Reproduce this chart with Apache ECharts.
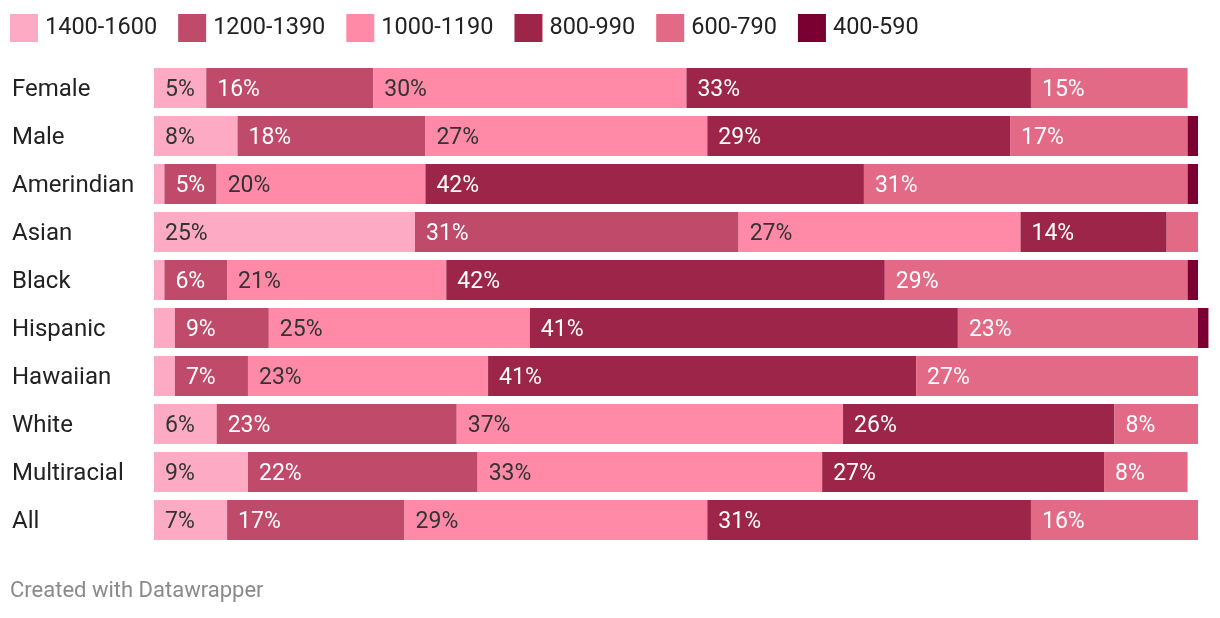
<!DOCTYPE html>
<html>
<head>
<meta charset="utf-8">
<script src="https://cdn.jsdelivr.net/npm/echarts@6/dist/echarts.min.js"></script>
<style>
html,body{margin:0;padding:0;background:#fff;}
#chart{width:1220px;height:618px;}
</style>
</head>
<body>
<div id="chart"></div>
<script>
const categories = ["Female","Male","Amerindian","Asian","Black","Hispanic","Hawaiian","White","Multiracial","All"];
const seriesNames = ["1400-1600","1200-1390","1000-1190","800-990","600-790","400-590"];
const s1400 = [5, 8, 1, 25, 1, 2, 2, 6, 9, 7];
const s1200 = [16, 18, 5, 31, 6, 9, 7, 23, 22, 17];
const s1000 = [30, 27, 20, 27, 21, 25, 23, 37, 33, 29];
const s800  = [33, 29, 42, 14, 42, 41, 41, 26, 27, 31];
const s600  = [15, 17, 31, 3, 29, 23, 27, 8, 8, 16];
const s400  = [0, 1, 1, 0, 1, 1, 0, 0, 0, 0];

const values = [s1400, s1200, s1000, s800, s600, s400];
const colors = ["#fdaac5", "#c04a69", "#ff8aa7", "#9c2549", "#e36a86", "#7a0032"];
const labelColors = ["#333333", "#ffffff", "#333333", "#ffffff", "#ffffff", "#ffffff"];
const FONT = "Roboto";

const chart = echarts.init(document.getElementById('chart'), null, {renderer: 'canvas'});
const series = seriesNames.map((name, i) => ({
  name: name,
  type: 'bar',
  stack: 'total',
  barWidth: 40,
  clip: false,
  itemStyle: {color: colors[i]},
  emphasis: {disabled: true},
  data: values[i].map(v => ({
    value: v,
    label: {show: v >= 5}
  })),
  label: {
    position: 'insideLeft',
    distance: 11,
    offset: [0, 2],
    formatter: p => p.value + '%',
    color: labelColors[i],
    fontFamily: FONT,
    fontSize: 23
  }
}));

chart.setOption({
  animation: false,
  backgroundColor: '#ffffff',
  textStyle: {fontFamily: FONT},
  legend: {
    left: 10,
    top: 14,
    padding: 0,
    icon: 'rect',
    itemWidth: 28,
    itemHeight: 28,
    itemGap: 21,
    data: seriesNames,
    selectedMode: false,
    textStyle: {fontFamily: FONT, fontSize: 23.5, color: '#222222', padding: [3, 0, 0, 2]}
  },
  grid: {left: 154, top: 64, width: 1044, height: 480, containLabel: false},
  xAxis: {
    type: 'value',
    min: 0,
    max: 100,
    show: false
  },
  yAxis: {
    type: 'category',
    data: categories,
    inverse: true,
    axisLine: {show: false},
    axisTick: {show: false},
    axisLabel: {
      align: 'left',
      margin: 142,
      formatter: v => '{a|' + v + '}',
      rich: {
        a: {fontFamily: FONT, fontSize: 24, color: '#222222', padding: [3, 0, 0, 0]}
      }
    }
  },
  graphic: [{
    type: 'text',
    left: 10,
    top: 580,
    style: {text: 'Created with Datawrapper', fontFamily: FONT, fontSize: 22, fill: '#8a8a8a'}
  }],
  series: series
});
</script>
</body>
</html>
